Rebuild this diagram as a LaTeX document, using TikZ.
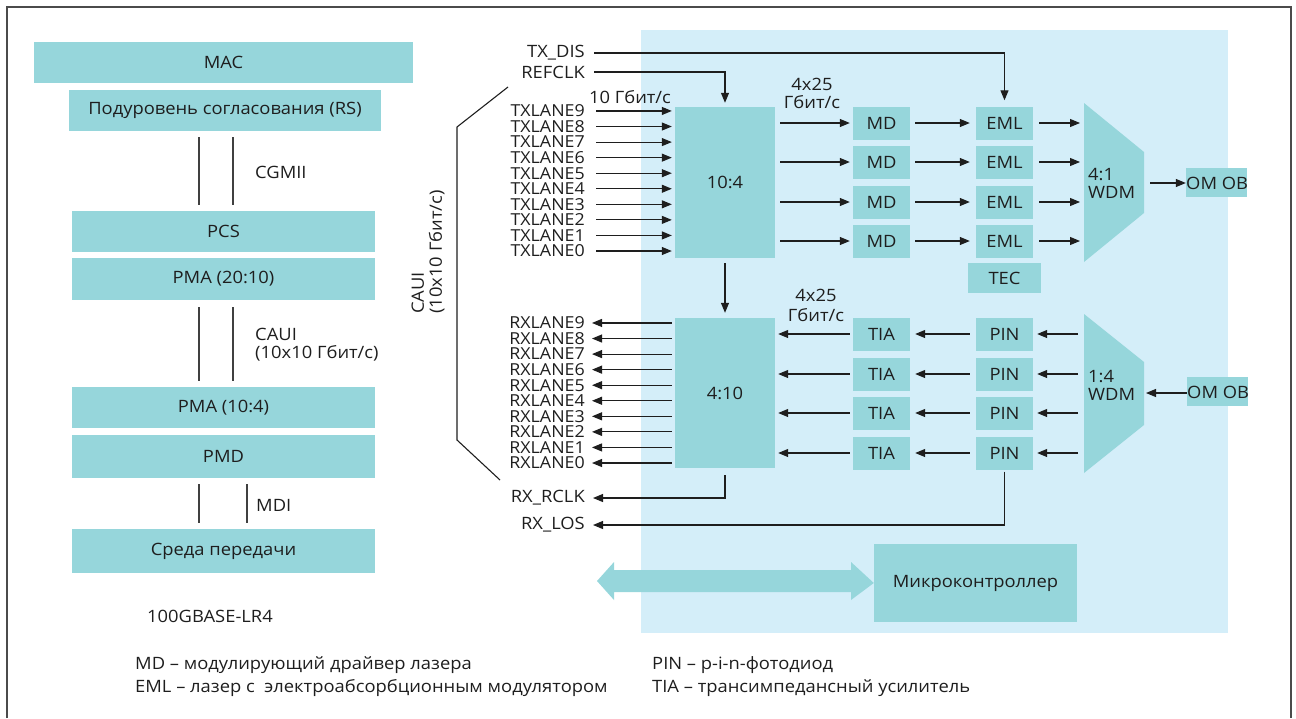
\documentclass[tikz,border=0pt]{standalone}
\usepackage{fontspec}
\setmainfont[FakeStretch=1.08]{Open Sans}
\usetikzlibrary{arrows.meta,calc}
\definecolor{bgblue}{HTML}{D4EEF9}
\definecolor{teal1}{HTML}{96D6DB}
\definecolor{ink}{HTML}{1E1E1E}
\tikzset{
  box/.style={fill=teal1, inner sep=0pt, text=ink, font=\fontsize{17}{18}\selectfont},
  lbl/.style={inner sep=0pt, text=ink, font=\fontsize{17}{18}\selectfont},
  lane/.style={inner sep=0pt, text=ink, font=\fontsize{16.5}{16}\selectfont, anchor=east},
  arr/.style={line width=1.1pt, draw=ink, -{Triangle[length=10pt,width=8pt]}},
  ln/.style={line width=1.1pt, draw=ink},
  gl/.style={line width=1.2pt, draw=ink!85},
}
\begin{document}
\begin{tikzpicture}[x=1pt,y=-1pt]
\useasboundingbox (0,0) rectangle (1296,718);
% frame
\draw[line width=1.5pt, draw=ink!80] (7,718) -- (7,7) -- (1291,7) -- (1291,718);
% background of module
\fill[bgblue] (641,30) rectangle (1228,633);

% ---------- left stack ----------
\node[box, minimum width=379pt, minimum height=41pt] (mac) at (223.5,62.5) {MAC};
\node[box, minimum width=312pt, minimum height=41pt] (rs) at (225,110.5) {Подуровень согласования (RS)};
\node[box, minimum width=303pt, minimum height=41pt] (pcs) at (223.5,231.5) {PCS};
\node[box, minimum width=303pt, minimum height=42pt] (pma1) at (223.5,279) {PMA (20:10)};
\node[box, minimum width=303pt, minimum height=41pt] (pma2) at (223.5,407.5) {PMA (10:4)};
\node[box, minimum width=303pt, minimum height=43pt] (pmd) at (223.5,456.5) {PMD};
\node[box, minimum width=303pt, minimum height=44pt] (med) at (223.5,551) {Среда передачи};
\coordinate (xa) at (199,0);
\coordinate (xb) at (233,0);
\coordinate (xc) at (247,0);
\draw[gl] ([yshift=-6pt]rs.south -| xa) -- ([yshift=6pt]pcs.north -| xa);
\draw[gl] ([yshift=-6pt]rs.south -| xb) -- ([yshift=6pt]pcs.north -| xb);
\draw[gl] ([yshift=-7pt]pma1.south -| xa) -- ([yshift=6pt]pma2.north -| xa);
\draw[gl] ([yshift=-7pt]pma1.south -| xb) -- ([yshift=6pt]pma2.north -| xb);
\draw[gl] ([yshift=-6pt]pmd.south -| xa) -- ([yshift=6pt]med.north -| xa);
\draw[gl] ([yshift=-6pt]pmd.south -| xc) -- ([yshift=6pt]med.north -| xc);
\node[lbl, anchor=west] (cgmii) at (255,172) {CGMII};
\node[lbl, anchor=west, align=left] (caui) at (255,345) {CAUI\\(10x10 Гбит/с)};
\node[lbl, anchor=west] (mdi) at (256,505) {MDI};
\node[lbl] (lr4) at (210,616) {100GBASE-LR4};

% ---------- legend ----------
\node[lbl, anchor=west] (lg1) at (135,665) {MD – модулирующий драйвер лазера};
\node[lbl, anchor=west] (lg2) at (135,688) {EML – лазер с \ электроабсорбционным модулятором};
\node[lbl, anchor=west] (lg3) at (652,665) {PIN – p-i-n-фотодиод};
\node[lbl, anchor=west] (lg4) at (652,688) {TIA – трансимпедансный усилитель};

% ---------- mux / demux ----------
\node[box, minimum width=100pt, minimum height=151pt] (mux) at (725,182.5) {10:4};
\node[box, minimum width=100pt, minimum height=150pt] (dmx) at (725,393) {4:10};

% TX lanes
\foreach \i in {0,...,9}{
  \pgfmathsetmacro{\yy}{251-15.56*\i}
  \node[lane] (tx\i) at (585,\yy) {TXLANE\i};
  \draw[arr] ([xshift=11pt]tx\i.east) -- ([xshift=-3pt]tx\i.east -| mux.west);
}
\node[lbl] (g10) at (630,97) {10 Гбит/с};

% RX lanes
\foreach \i in {0,...,9}{
  \pgfmathsetmacro{\yy}{463-15.56*\i}
  \node[lane] (rx\i) at (585,\yy) {RXLANE\i};
  \draw[arr] ([xshift=-3pt]rx\i.east -| dmx.west) -- ([xshift=7pt]rx\i.east);
}

% bracket and CAUI label
\draw[ln] (508,87) -- (457,127) -- (457,440) -- (500,480);
\node[lbl, rotate=90, align=left] (cauiv) at (428,252) {CAUI\\(10x10 Гбит/с)};

% control lines
\node[lbl, anchor=east] (txdis) at (585,53) {TX\_DIS};
\node[lbl, anchor=east] (refclk) at (585,72) {REFCLK};
\node[lbl, anchor=east] (rxrclk) at (585,498) {RX\_RCLK};
\node[lbl, anchor=east] (rxlos) at (585,525) {RX\_LOS};

% ---------- TX optics ----------
\foreach \k/\y in {1/123,2/162,3/202,4/241}{
  \node[box, minimum width=57pt, minimum height=33pt] (md\k) at (881.5,\y) {MD};
  \node[box, minimum width=57pt, minimum height=33pt] (eml\k) at (1004.5,\y) {EML};
  \draw[arr] ([xshift=5pt]mux.east |- md\k.west) -- ([xshift=-3pt]md\k.west);
  \draw[arr] ([xshift=5pt]md\k.east) -- ([xshift=-6pt]eml\k.west);
}
\node[lbl] (g425a) at (812,96) {\begin{tabular}{@{}c@{}}4x25\\[-1pt]Гбит/с\end{tabular}};
\node[box, minimum width=73pt, minimum height=30pt] (tec) at (1004.5,278) {TEC};
\fill[teal1] (1084,103) -- (1144,152) -- (1144,213) -- (1084,262) -- cycle;
\coordinate (wtxe) at (1144,183);
\node[lbl, anchor=west, align=left] (wtxl) at (1088,183) {4:1\\WDM};
\foreach \k in {1,...,4}{
  \draw[arr] ([xshift=6pt]eml\k.east) -- (eml\k.east -| 1080,0);
}
\node[box, minimum width=61pt, minimum height=29pt] (omtx) at (1216.5,182.5) {};
\node[lbl, anchor=west] (omtxl) at (1186,183) {OM OB};
\draw[arr] ([xshift=6pt]wtxe) -- (omtx.west |- wtxe);

% ---------- RX optics ----------
\foreach \k/\y in {1/334,2/374,3/413,4/453}{
  \node[box, minimum width=57pt, minimum height=33pt] (tia\k) at (881.5,\y) {TIA};
  \node[box, minimum width=57pt, minimum height=33pt] (pin\k) at (1004.5,\y) {PIN};
  \draw[arr] ([xshift=-6pt]pin\k.west) -- ([xshift=5pt]tia\k.east);
  \draw[arr] ([xshift=-3pt]tia\k.west) -- ([xshift=3pt]dmx.east |- tia\k.west);
  \draw[arr] (pin\k.east -| 1078,0) -- ([xshift=4pt]pin\k.east);
}
\node[lbl] (g425b) at (816,308) {\begin{tabular}{@{}c@{}}4x25\\[1pt]Гбит/с\end{tabular}};
\fill[teal1] (1084,314) -- (1144,362) -- (1144,425) -- (1084,473) -- cycle;
\coordinate (wrxe) at (1144,393);
\node[lbl, anchor=west, align=left] (wrxl) at (1088,385) {1:4\\WDM};
\node[box, minimum width=61pt, minimum height=29pt] (omrx) at (1217.5,391.5) {};
\node[lbl, anchor=west] (omrxl) at (1187,392) {OM OB};
\draw[arr] (omrx.west |- wrxe) -- ([xshift=2pt]wrxe);

% clock / control connectors
\draw[arr] ([xshift=9pt]txdis.east) -| ([yshift=6pt]eml1.north);
\draw[arr] ([xshift=9pt]refclk.east) -| ([yshift=4pt]mux.north);
\draw[arr] ([yshift=-5pt]mux.south) -- ([yshift=5pt]dmx.north);
\draw[arr] ([yshift=-7pt]dmx.south) |- ([xshift=8pt]rxrclk.east);
\draw[arr] ([yshift=-2pt]pin4.south) |- ([xshift=8pt]rxlos.east);

% ---------- microcontroller ----------
\node[box, minimum width=203pt, minimum height=78pt] (mcu) at (975.5,583) {Микроконтроллер};
\fill[teal1] (597,581) -- (614,562) -- (614,570) -- (851,570) -- (851,562) -- (mcu.west) -- (851,600) -- (851,592) -- (614,592) -- (614,600) -- cycle;
\end{tikzpicture}
\end{document}
